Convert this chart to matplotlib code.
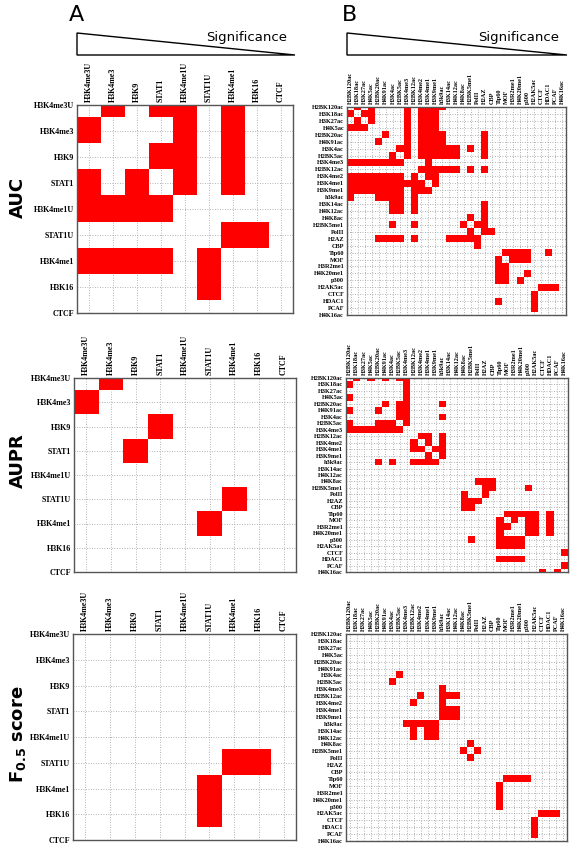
import matplotlib
matplotlib.use('Agg')
import matplotlib.pyplot as plt
import numpy as np
from matplotlib.colors import ListedColormap
from matplotlib.patches import Polygon

# ---------------- data ----------------
labels_A = ['H3K4me3U', 'H3K4me3', 'H3K9', 'STAT1', 'H3K4me1U', 'STAT1U',
            'H3K4me1', 'H3K16', 'CTCF']

# significant pairs: for each row, list of column indices marked red
auc_A = [[1, 3, 4, 6], [0, 4, 6], [3, 4, 6], [0, 2, 4, 6], [0, 1, 2, 3],
         [6, 7], [0, 1, 2, 3, 5], [5], []]
aupr_A = [[1], [0], [3], [2], [], [6], [5], [], []]
f05_A = [[], [], [], [], [], [6, 7], [5], [5], []]

labels_B = ['H2BK120ac', 'H3K18ac', 'H3K27ac', 'H4K5ac', 'H2BK20ac', 'H4K91ac',
            'H3K4ac', 'H2BK5ac', 'H3K4me3', 'H2BK12ac', 'H3K4me2', 'H3K4me1',
            'H3K9me1', 'h3k9ac', 'H3K14ac', 'H4K12ac', 'H4K8ac', 'H2BK5me1',
            'PolII', 'H2AZ', 'CBP', 'Tip60', 'MOF', 'H3R2me1', 'H4K20me1', 'p300',
            'H2AK5ac', 'CTCF', 'HDAC1', 'PCAF', 'H4K16ac']

auc_B = [
    [1, 3, 8, 10, 11, 12, 13],
    [0, 2, 3, 8, 10, 11, 12],
    [1, 3, 8, 10, 11, 12],
    [0, 1, 2, 8, 10, 11, 12],
    [5, 8, 10, 11, 12, 13, 19],
    [4, 8, 10, 11, 12, 13, 19],
    [7, 8, 10, 11, 12, 13, 14, 15, 17, 19],
    [6, 8, 10, 11, 12, 13, 14, 15, 19],
    [0, 1, 2, 3, 4, 5, 6, 7, 11],
    [10, 11, 12, 13, 14, 15, 17, 19],
    [0, 1, 2, 3, 4, 5, 6, 7, 9, 11, 12],
    [0, 1, 2, 3, 4, 5, 6, 7, 8, 9, 10, 12],
    [0, 1, 2, 3, 4, 5, 6, 7, 9, 10, 11],
    [0, 4, 5, 6, 7, 9],
    [6, 7, 9, 19],
    [6, 7, 9, 19],
    [17, 19],
    [6, 9, 16, 18, 19],
    [17, 19, 20],
    [4, 5, 6, 7, 9, 14, 15, 16, 17, 18],
    [18],
    [22, 23, 24, 25, 28],
    [21, 23, 24, 25],
    [21, 22],
    [21, 22, 25],
    [21, 22, 24],
    [27, 28, 29],
    [26],
    [21, 26],
    [26],
    [],
]

aupr_B = [
    [1, 3, 5, 7, 8],
    [0, 8],
    [8],
    [0, 8],
    [5, 7, 8, 13],
    [0, 4, 7, 8],
    [7, 8, 13],
    [0, 4, 5, 6, 8],
    [0, 1, 2, 3, 4, 5, 6, 7],
    [10, 11, 13],
    [9, 11, 13],
    [9, 10, 12, 13],
    [11, 13],
    [4, 6, 9, 10, 11, 12],
    [],
    [],
    [18, 19, 20],
    [19, 20, 25],
    [16, 19],
    [16, 17, 18],
    [16, 17],
    [22, 23, 24, 25, 26, 28],
    [21, 23, 25, 26, 28],
    [21, 22, 25, 26, 28],
    [21, 25, 26, 28],
    [17, 21, 22, 23, 24],
    [21, 22, 23, 24],
    [30],
    [21, 22, 23, 24],
    [30],
    [27, 29],
]

f05_B = [
    [], [], [], [], [], [],
    [7],
    [6],
    [13],
    [10, 13, 14, 15],
    [9, 13],
    [13, 14, 15],
    [13, 14, 15],
    [8, 9, 10, 11, 12],
    [9, 11, 12],
    [9, 11, 12],
    [17],
    [16, 18],
    [17],
    [],
    [],
    [22, 23, 24, 25],
    [21],
    [21],
    [21],
    [21],
    [27, 28, 29],
    [26],
    [26],
    [26],
    [],
]

row_titles = ['AUC', 'AUPR', r'$\mathbf{F_{0.5}}$ score']
panel_letters = ['A', 'B']

# ---------------- drawing ----------------
W, H = 570, 847
fig = plt.figure(figsize=(W / 100, H / 100), dpi=100)
fig.patch.set_facecolor('white')


def ax_px(l, t, r, b):
    return fig.add_axes([l / W, 1 - b / H, (r - l) / W, (b - t) / H])


def to_matrix(rows, n):
    m = np.zeros((n, n))
    for i, cols in enumerate(rows):
        for j in cols:
            m[i, j] = 1
    return m


cmap = ListedColormap([(1, 1, 1, 0), (1, 0, 0, 1)])


def draw(ax, rows, labels, fs):
    n = len(labels)
    m = to_matrix(rows, n)
    ax.imshow(m, cmap=cmap, vmin=0, vmax=1, interpolation='nearest',
              aspect='auto', extent=(-0.5, n - 0.5, n - 0.5, -0.5), zorder=2)
    ax.set_xlim(-0.5, n - 0.5)
    ax.set_ylim(n - 1, 0)
    ax.set_xticks(range(n))
    ax.set_yticks(range(n))
    ax.set_xticklabels(labels, rotation=90, fontsize=fs,
                       fontfamily='Liberation Serif', fontweight='bold')
    ax.set_yticklabels(labels, fontsize=fs,
                       fontfamily='Liberation Serif', fontweight='bold')
    ax.xaxis.tick_top()
    ax.tick_params(length=0, pad=2)
    ax.set_axisbelow(True)
    ax.grid(True, linestyle=(0, (1, 2)), color='#9a9a9a', linewidth=0.6)
    for s in ax.spines.values():
        s.set_color('#555555')
        s.set_linewidth(1.0)
        s.set_zorder(3)


A_boxes = [(77, 105, 293, 313), (74, 378, 296, 572), (73, 634, 296, 840)]
B_boxes = [(347, 107, 566, 315), (346, 378, 568, 572), (346, 634, 567, 841)]

for box, rows in zip(A_boxes, [auc_A, aupr_A, f05_A]):
    draw(ax_px(*box), rows, labels_A, 5.8)
for box, rows in zip(B_boxes, [auc_B, aupr_B, f05_B]):
    draw(ax_px(*box), rows, labels_B, 4.5)

# triangles with "Significance"
for (x0, x1), letter_x in zip([(77, 295), (347, 567)], [76, 349]):
    tri = Polygon([(x0 / W, 1 - 33 / H), (x0 / W, 1 - 55 / H), (x1 / W, 1 - 55 / H)],
                  closed=True, fill=False, edgecolor='black', linewidth=1.0,
                  transform=fig.transFigure)
    fig.add_artist(tri)
    fig.text((x1 - 8) / W, 1 - 37 / H, 'Significance', ha='right', va='center',
             fontsize=9.5)

for letter, lx in zip(panel_letters, [76, 349]):
    fig.text(lx / W, 1 - 15 / H, letter, ha='center', va='center', fontsize=16)

for title, yc in zip(row_titles, [197, 461, 734]):
    fig.text(18 / W, 1 - yc / H, title, rotation=90, ha='center', va='center',
             fontsize=13, fontweight='bold')

fig.savefig('out.png', dpi=100)
